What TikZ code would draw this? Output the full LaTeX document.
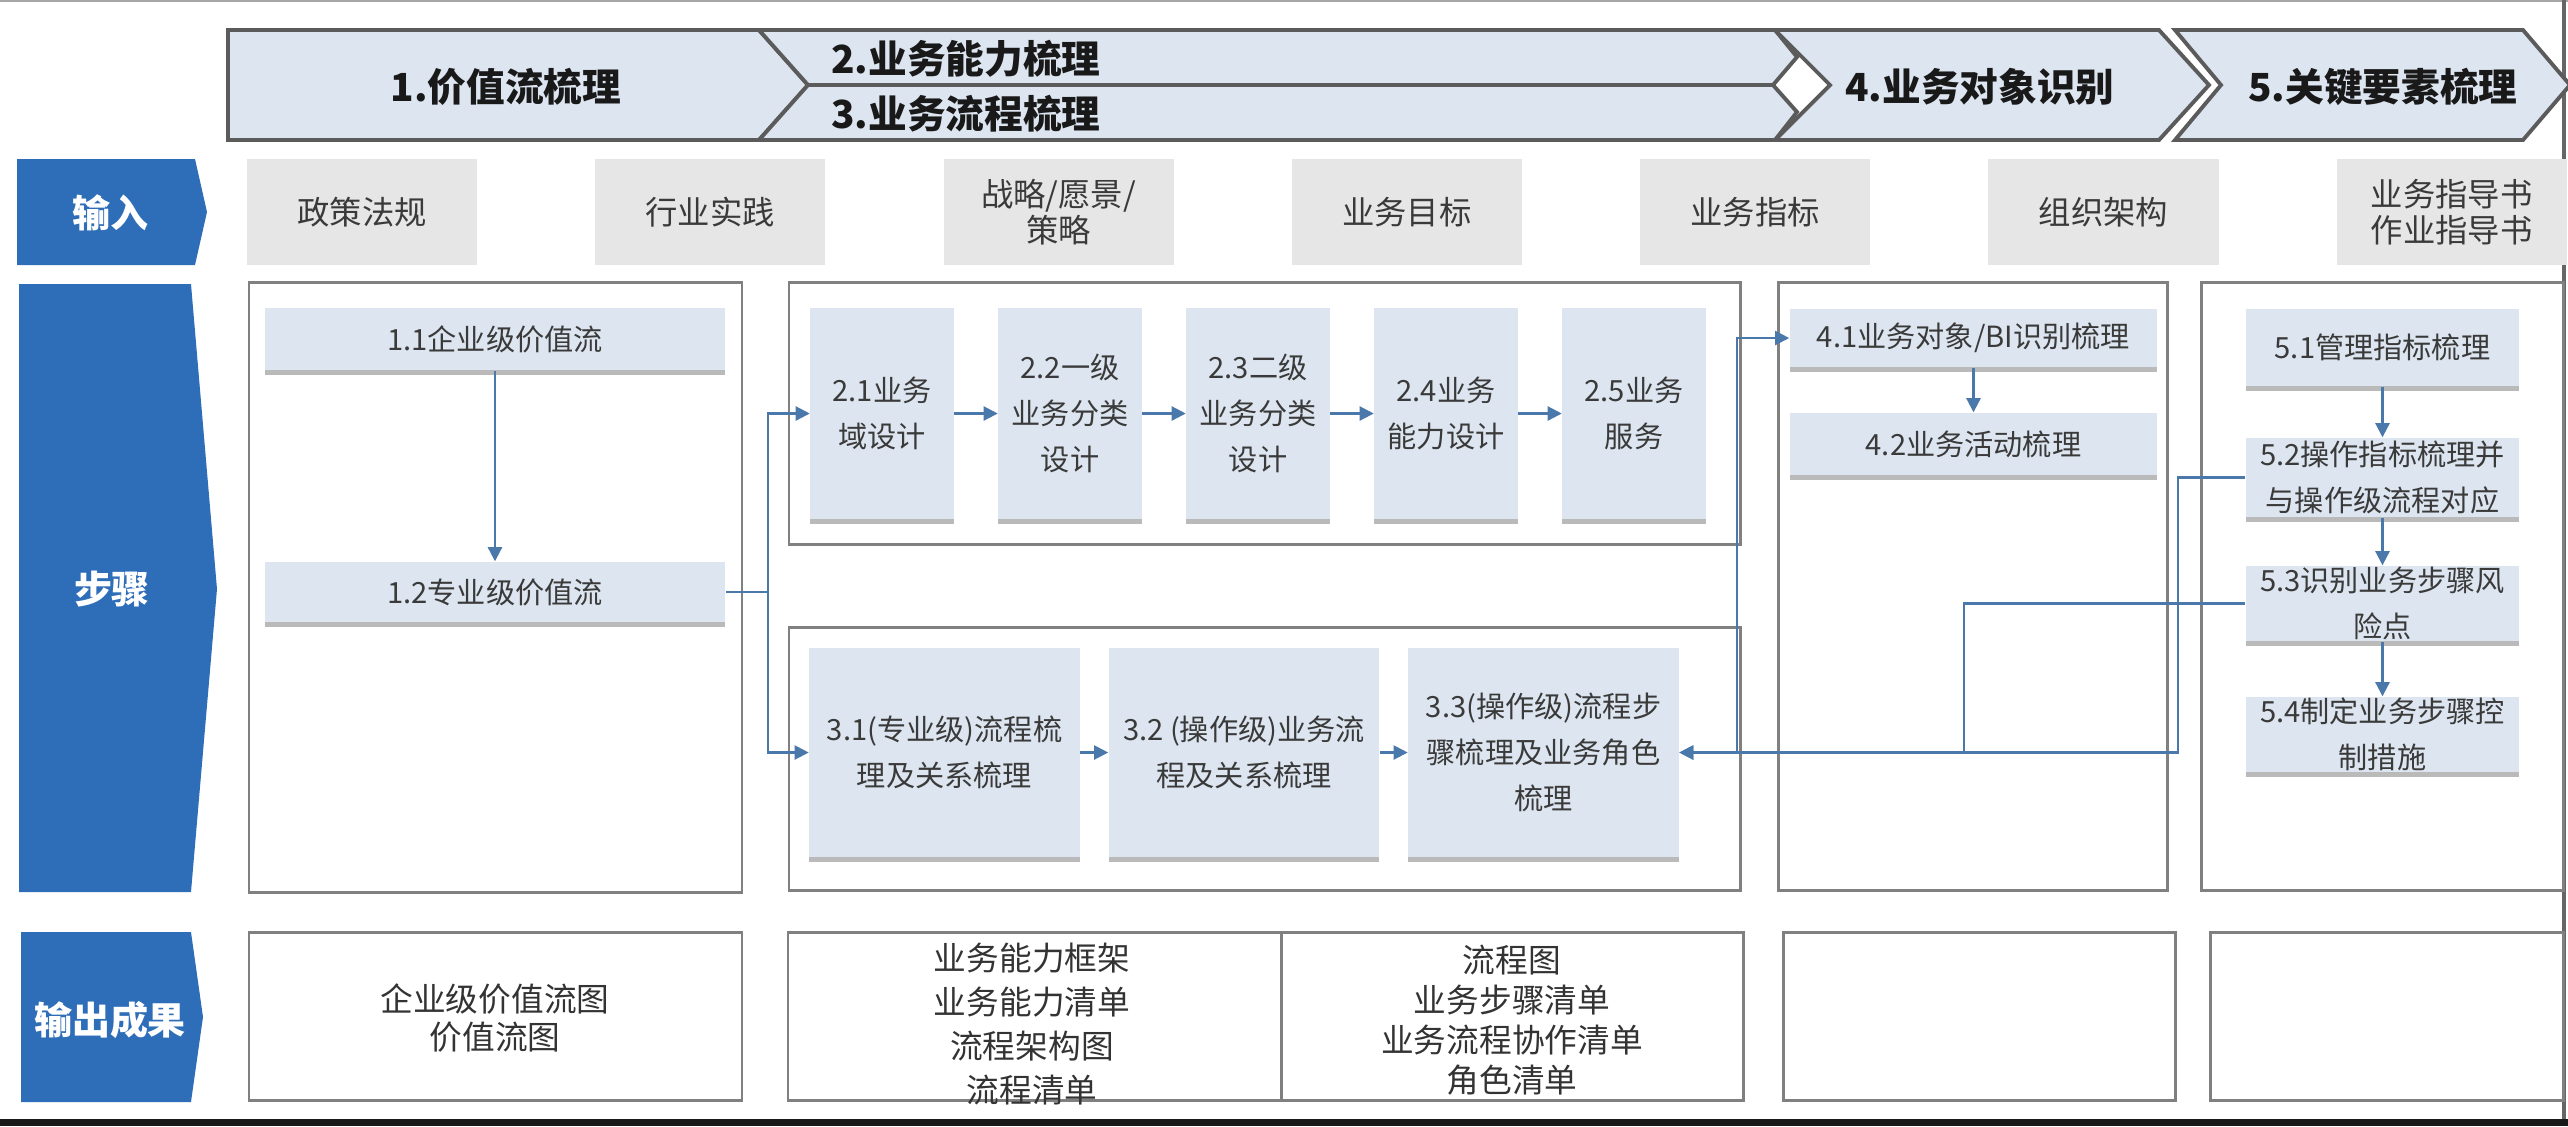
\documentclass[tikz,border=0pt]{standalone}
\usepackage{fontspec}
\setmainfont{Noto Sans CJK SC}
\usetikzlibrary{arrows.meta, shadows}

\definecolor{hdrfill}{HTML}{DCE5F0}
\definecolor{hdrline}{HTML}{5B5B5B}
\definecolor{rowblue}{HTML}{2E6DB8}
\definecolor{infill}{HTML}{E6E6E6}
\definecolor{stepfill}{HTML}{DDE6F0}
\definecolor{frameline}{HTML}{808080}
\definecolor{flowblue}{HTML}{4A78AA}
\definecolor{txtgray}{HTML}{3A3A3A}

\tikzset{
  hdrseg/.style={fill=hdrfill, draw=hdrline, line width=1.1pt, line join=miter},
  hdrtext/.style={font=\fontsize{11}{13}\selectfont\bfseries, text=black!90},
  rowtag/.style={fill=rowblue},
  rowtext/.style={font=\fontsize{10.8}{13}\selectfont\bfseries, text=white},
  inbox/.style={fill=infill, minimum width=2.3cm, minimum height=1.06cm, inner sep=0pt, align=center, text=txtgray, font=\fontsize{9.2}{10.4}\selectfont},
  stepbox/.style={fill=stepfill, inner sep=0pt, align=center, text=txtgray, font=\fontsize{8.3}{13}\selectfont, drop shadow={shadow xshift=0pt, shadow yshift=-0.05cm, fill=black!45, opacity=0.6}},
  frame/.style={draw=frameline, line width=0.85pt},
  flow/.style={draw=flowblue, line width=0.6pt, -{Triangle[length=4pt, width=4pt]}},
  link/.style={draw=flowblue, line width=0.6pt},
  outtext/.style={align=center, text=black!80, font=\fontsize{9.3}{12.5}\selectfont},
}

\begin{document}
\begin{tikzpicture}[x=0.01cm, y=-0.01cm]
  \useasboundingbox (0,0) rectangle (2568,1126);

  % Page edges
  \draw[gray!70, line width=0.6pt] (0,1) -- (2568,1);
  \draw[black!60, line width=1pt] (2564,0) -- (2564,1120);
  \fill[black!90] (0,1119) rectangle (2568,1126);

  % Phase header
  \filldraw[hdrseg] (228,30) -- (759,30) -- (808,85) -- (759,140) -- (228,140) -- cycle;
  \filldraw[hdrseg] (759,30) -- (1775,30) -- (1797,57) -- (1773,85) -- (808,85) -- cycle;
  \filldraw[hdrseg] (808,85) -- (1773,85) -- (1797,112) -- (1775,140) -- (759,140) -- cycle;
  \filldraw[hdrseg] (1775,30) -- (2159,30) -- (2209,85) -- (2159,140) -- (1775,140) -- (1830,85) -- cycle;
  \filldraw[hdrseg] (2175,30) -- (2523,30) -- (2570,85) -- (2523,140) -- (2175,140) -- (2221,85) -- cycle;
  \node[hdrtext] (ph1) at (506,87) {1.价值流梳理};
  \node[hdrtext] (ph2) at (966,59) {2.业务能力梳理};
  \node[hdrtext] (ph3) at (966,114) {3.业务流程梳理};
  \node[hdrtext] (ph4) at (1980,87) {4.业务对象识别};
  \node[hdrtext] (ph5) at (2383,87) {5.关键要素梳理};

  % Row tags
  \fill[rowtag] (17,159) -- (195,159) -- (207,212) -- (195,265) -- (17,265) -- cycle;
  \node[rowtext] (tagin) at (110,213) {输入};
  \fill[rowtag] (19,284) -- (191,284) -- (217,589) -- (191,892) -- (19,892) -- cycle;
  \node[rowtext] (tagstep) at (112,589) {步骤};
  \fill[rowtag] (21,932) -- (191,932) -- (203,1017) -- (191,1102) -- (21,1102) -- cycle;
  \node[rowtext] (tagout) at (110,1020) {输出成果};

  % Inputs
  \foreach \txt [count=\i] in {政策法规, 行业实践, {战略/愿景/\\策略}, 业务目标, 业务指标, 组织架构, {业务指导书\\作业指导书}}
    \node[inbox] (in\i) at ({362+348.3*(\i-1)}, 212) {\txt};

  % Step frames
  \draw[frame] (249,282) rectangle (742,892);
  \draw[frame] (789,282) rectangle (1740,544);
  \draw[frame] (789,627) rectangle (1740,890);
  \draw[frame] (1778,282) rectangle (2167,890);
  \draw[frame] (2201,282) rectangle (2563,890);

  % Steps
  \node[stepbox, minimum width=4.6cm, minimum height=0.62cm] (s11) at (495,339) {1.1企业级价值流};
  \node[stepbox, minimum width=4.6cm, minimum height=0.6cm] (s12) at (495,592) {1.2专业级价值流};
  \foreach \txt [count=\i] in {{2.1业务\\域设计}, {2.2一级\\业务分类\\设计}, {2.3二级\\业务分类\\设计}, {2.4业务\\能力设计}, {2.5业务\\服务}}
    \node[stepbox, minimum width=1.43cm, minimum height=2.11cm] (s2\i) at ({882+188*(\i-1)}, 413.5) {\txt};
  \foreach \txt [count=\i] in {{3.1(专业级)流程梳\\理及关系梳理}, {3.2 (操作级)业务流\\程及关系梳理}, {3.3(操作级)流程步\\骤梳理及业务角色\\梳理}}
    \node[stepbox, minimum width=2.7cm, minimum height=2.09cm] (s3\i) at ({944.5+299.5*(\i-1)}, 752.5) {\txt};
  \node[stepbox, minimum width=3.67cm, minimum height=0.58cm] (s41) at (1973.5,338) {4.1业务对象/BI识别梳理};
  \node[stepbox, minimum width=3.67cm, minimum height=0.62cm] (s42) at (1973.5,444) {4.2业务活动梳理};
  \node[stepbox, minimum width=2.73cm, minimum height=0.77cm] (s51) at (2382.5,347.5) {5.1管理指标梳理};
  \node[stepbox, minimum width=2.73cm, minimum height=0.79cm] (s52) at (2382.5,477.5) {5.2操作指标梳理并\\与操作级流程对应};
  \node[stepbox, minimum width=2.73cm, minimum height=0.75cm] (s53) at (2382.5,603.5) {5.3识别业务步骤风\\险点};
  \node[stepbox, minimum width=2.73cm, minimum height=0.75cm] (s54) at (2382.5,734.5) {5.4制定业务步骤控\\制措施};

  % Connectors
  \draw[flow] (s11) -- (s12);
  \coordinate (br12) at (768,592);
  \draw[link] (s12.east) -- (br12);
  \draw[flow] (br12) |- (s21.west);
  \draw[flow] (br12) |- (s31.west);
  \foreach \i [count=\j from 2] in {1,...,4}
    \draw[flow] (s2\i) -- (s2\j);
  \foreach \i [count=\j from 2] in {1,2}
    \draw[flow] (s3\i) -- (s3\j);
  \draw[flow] (s41) -- (s42);
  \foreach \i [count=\j from 2] in {1,2,3}
    \draw[flow] (s5\i) -- (s5\j);
  \coordinate (k52) at (2178,752.5);
  \coordinate (k53) at (1964,752.5);
  \coordinate (k41) at (1737,752.5);
  \draw[flow] (s52.west) -| (k52) -- (s33.east);
  \draw[flow] (s53.west) -| (k53) -- (s33.east);
  \draw[flow] (k41) |- (s41.west);

  % Outputs
  \draw[frame] (249,932) rectangle (742,1100);
  \draw[frame] (788,932) rectangle (1743,1100);
  \draw[frame] (1281,932) -- (1281,1100);
  \draw[frame] (1783,932) rectangle (2175,1100);
  \draw[frame] (2210,932) rectangle (2563,1100);
  \node[outtext, font=\fontsize{9.3}{10.6}\selectfont] (o1) at (495,1018) {企业级价值流图\\价值流图};
  \node[outtext] (o2a) at (1032,1024) {业务能力框架\\业务能力清单\\流程架构图\\流程清单};
  \node[outtext, font=\fontsize{9.3}{11.4}\selectfont] (o2b) at (1512,1020) {流程图\\业务步骤清单\\业务流程协作清单\\角色清单};

\end{tikzpicture}
\end{document}
